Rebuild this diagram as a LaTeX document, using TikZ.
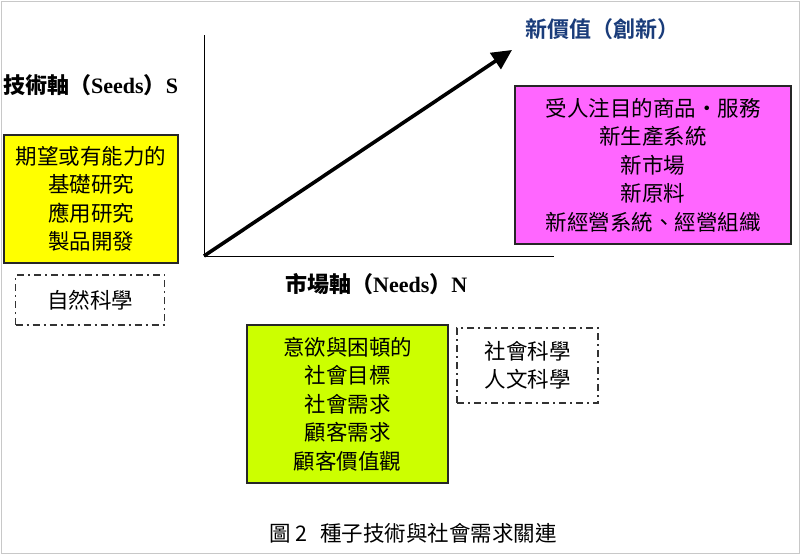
\documentclass[tikz,border=0pt]{standalone}
\usepackage{fontspec}
\setmainfont{Liberation Serif}
\newfontfamily\cjk{Noto Sans CJK TC}
\newfontfamily\cjkb{Noto Sans CJK TC Bold}
\usetikzlibrary{arrows.meta}
\definecolor{boxyellow}{HTML}{FFFF00}
\definecolor{boxmagenta}{HTML}{FF66FF}
\definecolor{boxgreen}{HTML}{CCFF00}
\definecolor{titleblue}{HTML}{1A3C7A}
\definecolor{frame}{HTML}{C8C8C8}
\begin{document}
\begin{tikzpicture}[x=1pt,y=-1pt,
  solidbox/.style={draw=black!85,line width=1.2pt,inner sep=0pt,align=center,font=\cjk\fontsize{21.5}{28.5}\selectfont},
  dashbox/.style={draw=black!80,line width=1.3pt,dash pattern=on 7pt off 4pt on 2pt off 4pt,inner sep=0pt,align=center,font=\cjk\fontsize{21.5}{28.5}\selectfont},
  axislabel/.style={inner sep=0pt,anchor=west,font=\fontsize{22}{24}\selectfont\bfseries},
  axis/.style={draw=black,line width=0.8pt}]
\useasboundingbox (0,0) rectangle (800,554);
\draw[frame,line width=1pt] (1,1) rectangle (799,553);
% axes
\coordinate (O) at (204,256);
\coordinate (ytop) at (204,35);
\coordinate (xend) at (554,256);
\coordinate (tip) at (512,50);
\draw[axis] (ytop) -- (O) -- (xend);
\draw[line width=3.6pt,-{Triangle[length=20pt,width=19pt]}] (O) -- (tip);
% labels
\node[inner sep=0pt,font=\cjkb\fontsize{22}{24}\selectfont,text=titleblue] (newval) at (602,29) {新價值（創新）};
\node[axislabel] (seeds) at (3,85) {{\cjkb 技術軸（}Seeds{\cjkb ）}S};
\node[axislabel] (needs) at (285,284) {{\cjkb 市場軸（}Needs{\cjkb ）}N};
% boxes
\node[solidbox,fill=boxmagenta,minimum width=276pt,minimum height=158pt] (valbox) at (653,165) {受人注目的商品・服務\\新生產系統\\新市場\\新原料\\新經營系統、經營組織};
\node[solidbox,fill=boxyellow,minimum width=174pt,minimum height=128pt] (seedbox) at (91,199) {期望或有能力的\\基礎研究\\應用研究\\製品開發};
\node[dashbox,minimum width=149pt,minimum height=50pt] (natsci) at (90,300) {自然科學};
\node[solidbox,fill=boxgreen,minimum width=201pt,minimum height=158pt] (needbox) at (347.5,404) {意欲與困頓的\\社會目標\\社會需求\\顧客需求\\顧客價值觀};
\node[dashbox,minimum width=141pt,minimum height=75pt] (socsci) at (527.5,365.5) {社會科學\\人文科學};
% caption
\node[inner sep=0pt,font=\cjk\fontsize{21.5}{24}\selectfont] (caption) at (413,533) {圖 2\hspace{0.6em}種子技術與社會需求關連};
\end{tikzpicture}
\end{document}
